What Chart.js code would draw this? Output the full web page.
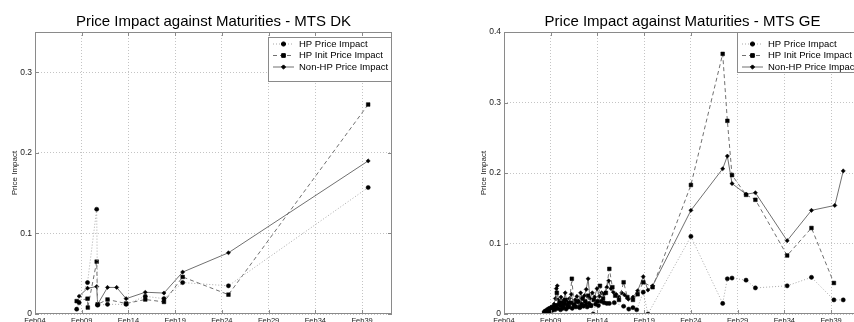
<!DOCTYPE html>
<html>
<head>
<meta charset="utf-8">
<script src="https://cdn.jsdelivr.net/npm/chart.js@4.4.0/dist/chart.umd.min.js"></script>
<style>
  html, body { margin: 0; padding: 0; background: #fff; overflow: hidden; }
  #wrap { position: relative; width: 854px; height: 322px; overflow: hidden; }
  canvas { position: absolute; top: 0; }
  #dk { left: 0; }
  #ge { left: 469px; }
</style>
</head>
<body>
<div id="wrap">
  <canvas id="dk" width="430" height="340"></canvas>
  <canvas id="ge" width="430" height="340"></canvas>
</div>
<script>
const seriesNames = ['HP Price Impact', 'HP Init Price Impact', 'Non-HP Price Impact'];
const xTicks = [2004, 2009, 2014, 2019, 2024, 2029, 2034, 2039];
const dkYTicks = [0, 0.1, 0.2, 0.3];
const geYTicks = [0, 0.1, 0.2, 0.3, 0.4];

// MTS DK
const dkHpYears = [2008.46, 2008.72, 2009.62, 2010.6, 2010.7, 2011.76, 2013.75, 2015.8, 2017.8, 2019.8, 2024.7, 2039.65];
const dkHpValues = [0.006, 0.014, 0.039, 0.130, 0.011, 0.012, 0.012, 0.022, 0.019, 0.039, 0.035, 0.157];
const dkInitYears = [2008.46, 2009.62, 2009.65, 2010.6, 2010.7, 2011.76, 2013.75, 2015.8, 2017.8, 2019.8, 2024.7, 2039.65];
const dkInitValues = [0.016, 0.019, 0.008, 0.065, 0.012, 0.018, 0.013, 0.018, 0.015, 0.046, 0.024, 0.260];
const dkNonYears = [2008.72, 2009.62, 2010.6, 2010.7, 2011.76, 2012.74, 2013.75, 2015.8, 2017.8, 2019.8, 2024.7, 2039.65];
const dkNonValues = [0.022, 0.032, 0.034, 0.012, 0.033, 0.033, 0.019, 0.027, 0.026, 0.052, 0.076, 0.190];

// MTS GE
const geHpYears = [2008.3, 2008.4, 2008.55, 2008.7, 2008.85, 2009.0, 2009.15, 2009.3, 2009.45, 2009.6, 2009.75, 2009.9,
  2010.05, 2010.2, 2010.35, 2010.5, 2010.65, 2010.8, 2010.95, 2011.1, 2011.3, 2011.5, 2011.7, 2011.9, 2012.1, 2012.3,
  2012.5, 2012.7, 2012.9, 2013.1, 2013.3, 2013.55, 2013.8, 2014.1, 2014.4, 2014.7, 2015.0, 2015.27, 2015.8, 2016.8,
  2017.35, 2017.8, 2018.2, 2018.9, 2019.4, 2024.0, 2027.4, 2027.9, 2028.4, 2029.9, 2030.9, 2034.3, 2036.9, 2039.3, 2040.3];
const geHpValues = [0.000, 0.004, 0.002, 0.006, 0.003, 0.008, 0.005, 0.010, 0.006, 0.012, 0.008, 0.014,
  0.006, 0.011, 0.009, 0.015, 0.007, 0.012, 0.010, 0.016, 0.008, 0.013, 0.010, 0.017, 0.009, 0.014,
  0.011, 0.018, 0.010, 0.015, 0.012, 0.000, 0.014, 0.012, 0.018, 0.016, 0.015, 0.015, 0.016, 0.011,
  0.007, 0.009, 0.006, 0.031, 0.000, 0.110, 0.015, 0.050, 0.051, 0.048, 0.037, 0.040, 0.052, 0.020, 0.020];
const geInitYears = [2008.3, 2008.5, 2008.7, 2008.9, 2009.1, 2009.3, 2009.5, 2009.65, 2009.8, 2010.0, 2010.2, 2010.4,
  2010.6, 2010.8, 2011.0, 2011.26, 2011.5, 2011.8, 2012.1, 2012.4, 2012.7, 2013.0, 2013.3, 2013.6, 2014.0, 2014.27,
  2014.6, 2014.9, 2015.27, 2015.6, 2015.9, 2016.3, 2016.8, 2017.2, 2017.8, 2018.3, 2018.9, 2019.9,
  2024.0, 2027.4, 2027.9, 2028.4, 2029.9, 2030.9, 2034.3, 2036.9, 2039.3];
const geInitValues = [0.002, 0.004, 0.006, 0.005, 0.009, 0.008, 0.012, 0.030, 0.010, 0.016, 0.008, 0.014,
  0.020, 0.010, 0.015, 0.050, 0.012, 0.018, 0.010, 0.022, 0.014, 0.026, 0.012, 0.020, 0.018, 0.040,
  0.022, 0.030, 0.064, 0.038, 0.026, 0.020, 0.045, 0.024, 0.020, 0.028, 0.045, 0.038,
  0.183, 0.369, 0.274, 0.197, 0.169, 0.162, 0.083, 0.122, 0.044];
const geNonYears = [2008.3, 2008.45, 2008.6, 2008.75, 2008.9, 2009.05, 2009.2, 2009.35, 2009.5, 2009.6, 2009.7, 2009.8,
  2009.95, 2010.1, 2010.25, 2010.4, 2010.55, 2010.7, 2010.85, 2011.0, 2011.2, 2011.4, 2011.6, 2011.8, 2012.0, 2012.2,
  2012.4, 2012.6, 2012.8, 2013.0, 2013.2, 2013.45, 2013.7, 2013.95, 2014.2, 2014.45, 2014.7, 2015.0, 2015.2, 2015.45,
  2015.7, 2016.0, 2016.3, 2016.6, 2016.9, 2017.3, 2017.8, 2018.3, 2018.9, 2019.4, 2019.9,
  2024.0, 2027.4, 2027.9, 2028.4, 2029.9, 2030.9, 2034.3, 2036.9, 2039.4, 2040.3];
const geNonValues = [0.003, 0.005, 0.004, 0.008, 0.006, 0.010, 0.009, 0.014, 0.022, 0.036, 0.040, 0.020,
  0.014, 0.024, 0.016, 0.020, 0.030, 0.018, 0.014, 0.022, 0.028, 0.016, 0.020, 0.025, 0.018, 0.030,
  0.022, 0.026, 0.035, 0.050, 0.022, 0.030, 0.024, 0.036, 0.025, 0.030, 0.028, 0.038, 0.047, 0.036,
  0.031, 0.028, 0.024, 0.030, 0.027, 0.021, 0.024, 0.033, 0.053, 0.034, 0.040,
  0.147, 0.206, 0.224, 0.185, 0.170, 0.172, 0.104, 0.147, 0.154, 0.203];

const fontFamily = 'Arial, "Liberation Sans", sans-serif';

function points(xs, ys) {
  return xs.map((x, i) => ({ x: x, y: ys[i] }));
}

function makeDatasets(hp, init, non) {
  return [
    { label: seriesNames[0], data: hp, borderColor: '#a8a8a8', borderDash: [1, 2], pointStyle: 'circle', pointRadius: 2.1 },
    { label: seriesNames[1], data: init, borderColor: '#707070', borderDash: [4, 3], pointStyle: 'rect', pointRadius: 2.6 },
    { label: seriesNames[2], data: non, borderColor: '#707070', borderDash: [], pointStyle: 'rectRot', pointRadius: 2.1 }
  ].map(d => Object.assign(d, {
    showLine: true, borderWidth: 1, backgroundColor: '#000', pointBackgroundColor: '#000',
    pointBorderColor: '#000', pointBorderWidth: 0.5, tension: 0
  }));
}

// box, inner ticks, title and legend
const framePlugin = {
  id: 'frame',
  afterDraw(chart, args, opts) {
    const { ctx, chartArea: a } = chart;
    ctx.save();
    ctx.strokeStyle = '#8a8a8a';
    ctx.lineWidth = 1;
    ctx.strokeRect(a.left + 0.5, a.top + 0.5, a.right - a.left - 1, a.bottom - a.top - 1);
    const xs = chart.scales.x, ys = chart.scales.y;
    ctx.beginPath();
    xTicks.forEach(v => {
      const px = Math.round(xs.getPixelForValue(v)) + 0.5;
      ctx.moveTo(px, a.bottom); ctx.lineTo(px, a.bottom - 4);
      ctx.moveTo(px, a.top); ctx.lineTo(px, a.top + 4);
    });
    opts.yTicks.forEach(v => {
      const py = Math.round(ys.getPixelForValue(v)) + 0.5;
      ctx.moveTo(a.left, py); ctx.lineTo(a.left + 4, py);
      ctx.moveTo(a.right, py); ctx.lineTo(a.right - 4, py);
    });
    ctx.stroke();

    ctx.fillStyle = '#000';
    ctx.font = '15px ' + fontFamily;
    ctx.textAlign = 'center';
    ctx.textBaseline = 'alphabetic';
    ctx.fillText(opts.title, (a.left + a.right) / 2, 25.5);

    // legend
    const boxW = 124, boxTop = a.top + opts.legendTop, boxH = opts.legendH;
    const bx = a.right - boxW;
    ctx.fillStyle = '#fff';
    ctx.fillRect(bx, boxTop, boxW, boxH);
    ctx.strokeStyle = '#8a8a8a';
    ctx.strokeRect(bx + 0.5, boxTop + 0.5, boxW - 1, boxH - 1);
    ctx.font = '9.5px ' + fontFamily;
    ctx.textAlign = 'left';
    ctx.textBaseline = 'middle';
    const rows = [43.5, 55, 66.5];
    chart.data.datasets.forEach((d, i) => {
      const y = rows[i];
      ctx.strokeStyle = d.borderColor;
      ctx.lineWidth = 1;
      ctx.setLineDash(d.borderDash);
      ctx.beginPath();
      ctx.moveTo(bx + 5, y + 0.5);
      ctx.lineTo(bx + 26, y + 0.5);
      ctx.stroke();
      ctx.setLineDash([]);
      ctx.fillStyle = '#000';
      ctx.strokeStyle = '#000';
      Chart.helpers.drawPoint(ctx, { pointStyle: d.pointStyle, radius: d.pointRadius, rotation: 0, borderWidth: 0.5 }, bx + 15.5, y + 0.5);
      ctx.fillStyle = '#000';
      ctx.fillText(d.label, bx + 31, y + 0.5);
    });
    ctx.restore();
  }
};

function makeChart(id, title, yMax, yTicks, legendTop, legendH, datasets) {
  return new Chart(document.getElementById(id), {
    type: 'scatter',
    data: { datasets: datasets },
    options: {
      responsive: false,
      animation: false,
      devicePixelRatio: 1,
      layout: { padding: { top: 32, right: 38, left: 0, bottom: 0 } },
      plugins: {
        legend: { display: false },
        tooltip: { enabled: false },
        frame: { title: title, yTicks: yTicks, legendTop: legendTop, legendH: legendH }
      },
      scales: {
        x: {
          type: 'linear',
          min: 2004,
          max: 2042.2,
          afterBuildTicks: ax => { ax.ticks = xTicks.map(v => ({ value: v })); },
          afterFit: ax => { ax.height = 26; },
          ticks: {
            callback: v => 'Feb' + String(v).slice(2),
            color: '#222',
            font: { family: fontFamily, size: 7.5 },
            padding: 2,
            maxRotation: 0,
            autoSkip: false
          },
          grid: { color: '#c4c4c4', drawTicks: false },
          border: { display: false, dash: [1, 2] }
        },
        y: {
          type: 'linear',
          min: 0,
          max: yMax,
          afterBuildTicks: ax => { ax.ticks = yTicks.map(v => ({ value: v })); },
          afterFit: ax => { ax.width = 35; },
          ticks: {
            callback: v => String(v),
            color: '#222',
            font: { family: fontFamily, size: 8.5 },
            padding: 3
          },
          grid: { color: '#c4c4c4', drawTicks: false },
          border: { display: false, dash: [1, 2] },
          title: {
            display: true,
            text: 'Price Impact',
            color: '#222',
            font: { family: fontFamily, size: 8 },
            padding: { top: 9.6, bottom: 0 }
          }
        }
      }
    },
    plugins: [framePlugin]
  });
}

makeChart('dk', 'Price Impact against Maturities - MTS DK', 0.35, dkYTicks, 5, 45,
  makeDatasets(points(dkHpYears, dkHpValues), points(dkInitYears, dkInitValues), points(dkNonYears, dkNonValues)));

makeChart('ge', 'Price Impact against Maturities - MTS GE', 0.4, geYTicks, 0, 41,
  makeDatasets(points(geHpYears, geHpValues), points(geInitYears, geInitValues), points(geNonYears, geNonValues)));
</script>
</body>
</html>
